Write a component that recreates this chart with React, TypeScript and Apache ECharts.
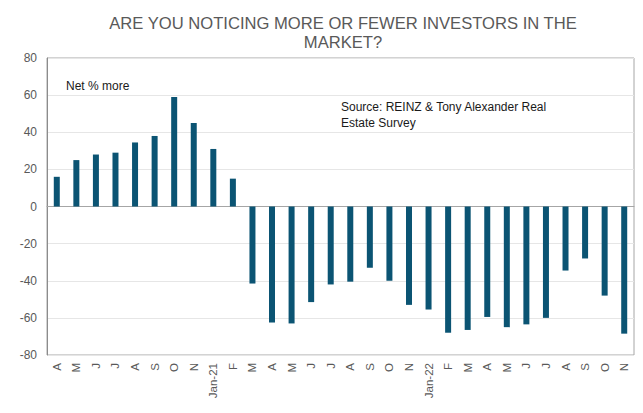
import React, { useEffect, useRef } from "react";
import * as echarts from "echarts";

const categories = [
  "A", "M", "J", "J", "A", "S", "O", "N", "Jan-21", "F",
  "M", "A", "M", "J", "J", "A", "S", "O", "N", "Jan-22",
  "F", "M", "A", "M", "J", "J", "A", "S", "O", "N",
];
const netMore = [
  16, 25, 28, 29, 34.5, 38, 59, 45, 31, 15,
  -41.5, -62.5, -63, -51.5, -42, -40.5, -33, -40, -53, -55.5,
  -68, -66.5, -59.5, -65, -63.5, -60, -34.5, -28, -48, -68.5,
];
const yTicks = { min: -80, max: 80, interval: 20 };
const titleLines = ["ARE YOU NOTICING MORE OR FEWER INVESTORS IN THE", "MARKET?"];
const noteText = "Net % more";
const sourceLines = ["Source: REINZ & Tony Alexander Real", "Estate Survey"];

export default function App() {
  const ref = useRef<HTMLDivElement>(null);
  useEffect(() => {
    if (!ref.current) return;
    const chart = echarts.init(ref.current, undefined, { renderer: "svg" });
    const font = "'Liberation Sans', Arial, sans-serif";
    chart.setOption({
      animation: false,
      backgroundColor: "#ffffff",
      grid: { left: 47, right: 9, top: 58, bottom: 58, containLabel: false, show: true, borderColor: "#a6a6a6", borderWidth: 1 },
      xAxis: {
        type: "category",
        data: categories,
        axisLine: { show: true, lineStyle: { color: "#a6a6a6" } },
        axisTick: { show: false },
        axisLabel: { rotate: 90, interval: 0, color: "#595959", fontSize: 11.5, fontFamily: font, margin: 8 },
        splitLine: { show: false },
      },
      yAxis: {
        type: "value",
        min: yTicks.min,
        max: yTicks.max,
        interval: yTicks.interval,
        axisLine: { show: true, lineStyle: { color: "#8c8c8c" } },
        axisTick: { show: false },
        axisLabel: { color: "#595959", fontSize: 12, fontFamily: font, margin: 10 },
        splitLine: { show: true, lineStyle: { color: "#e6e6e6" } },
      },
      series: [
        {
          type: "bar",
          data: netMore,
          barWidth: 6,
          itemStyle: { color: "#0b5473" },
        },
      ],
      graphic: [
        {
          type: "text",
          x: 343,
          y: 14,
          style: {
            text: titleLines.join("\n"),
            align: "center",
            fill: "#595959",
            font: `16.6px ${font}`,
            lineHeight: 19,
          },
        },
        {
          type: "text",
          x: 66,
          y: 80,
          style: { text: noteText, fill: "#1a1a1a", font: `12px ${font}` },
        },
        {
          type: "text",
          x: 341,
          y: 99,
          style: { text: sourceLines.join("\n"), fill: "#1a1a1a", font: `12px ${font}`, lineHeight: 16 },
        },
      ],
    });
    return () => chart.dispose();
  }, []);
  return (
    <div
      ref={ref}
      style={{ position: "fixed", left: 0, top: 0, width: 643, height: 413 }}
    />
  );
}
